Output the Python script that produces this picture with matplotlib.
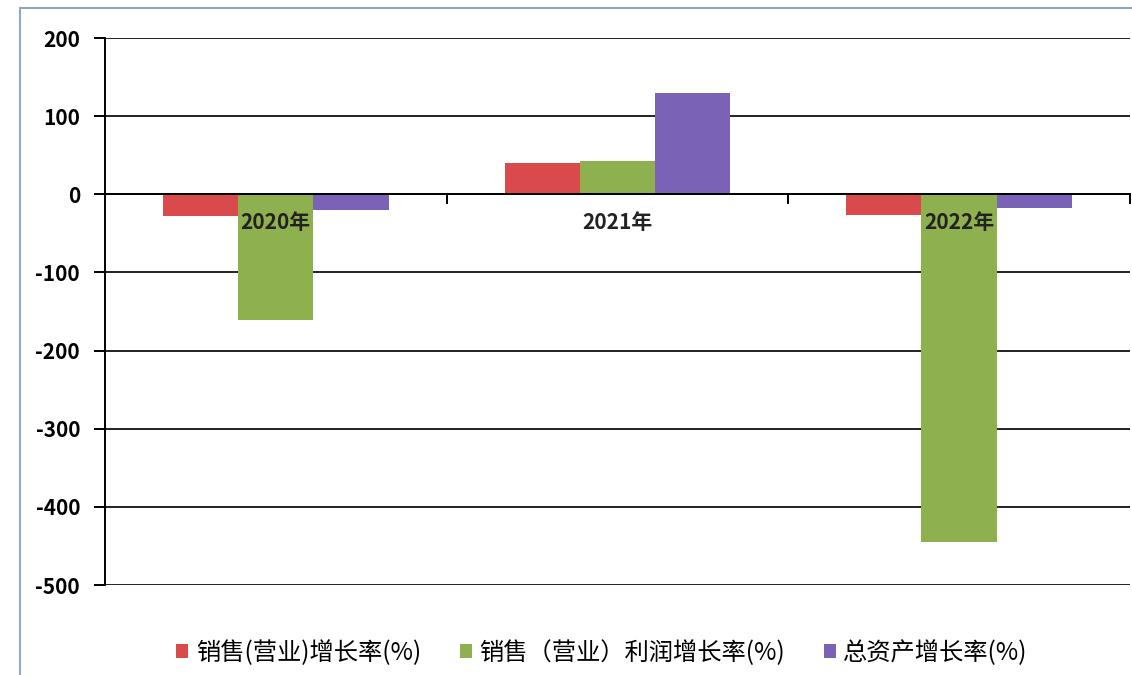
import matplotlib
matplotlib.use("Agg")
import matplotlib.pyplot as plt
import numpy as np
from matplotlib.patches import Rectangle

plt.rcParams["font.family"] = ["Noto Sans CJK SC", "DejaVu Sans"]

years = ["2020年", "2021年", "2022年"]
series_names = ["销售(营业)增长率(%)", "销售（营业）利润增长率(%)", "总资产增长率(%)"]
sales_growth = [-28, 40, -27]
profit_growth = [-161, 43, -445]
asset_growth = [-20, 129, -18]
y_ticks = [200, 100, 0, -100, -200, -300, -400, -500]

colors = ["#d94a4c", "#8fb04e", "#7a62b6"]

fig = plt.figure(figsize=(11.32, 6.75), dpi=100)
ax = fig.add_axes([0.0928, 0.1333, 0.9052, 0.8104])

x = np.arange(len(years))
width = 0.22
all_series = [sales_growth, profit_growth, asset_growth]
for i, (vals, name, col) in enumerate(zip(all_series, series_names, colors)):
    ax.bar(x + (i - 1) * width, vals, width=width, color=col, label=name, zorder=2)

ax.set_xlim(-0.5, 2.5)
ax.set_ylim(-500, 200)
ax.set_yticks(y_ticks)
ax.set_yticklabels([str(v) for v in y_ticks], fontsize=15, fontweight="bold")
ax.yaxis.grid(True, color="#222222", linewidth=1.4, zorder=0)
ax.set_axisbelow(True)

for side in ["top", "right"]:
    ax.spines[side].set_visible(False)
ax.spines["left"].set_linewidth(1.4)
ax.spines["bottom"].set_position(("data", 0))
ax.spines["bottom"].set_linewidth(1.4)
ax.spines["bottom"].set_zorder(3)

# category labels sit on top of the bars, just under the zero line
ax.set_xticks(x)
ax.set_xticklabels([])
for xi, year in zip(x, years):
    ax.annotate(year, xy=(xi, 0), xytext=(0, -13), textcoords="offset points",
                ha="center", va="top", fontsize=15, fontweight="bold",
                color="#222222", zorder=5)
ax.set_xticks([0.5, 1.5, 2.5], minor=True)
ax.tick_params(axis="x", which="major", length=0)
ax.tick_params(axis="x", which="minor", length=7, width=1.4, direction="out")
ax.tick_params(axis="y", length=8, width=1.4, pad=10)

ax.legend(loc="upper center", bbox_to_anchor=(0.485, -0.06), ncol=3, frameon=False,
          fontsize=17.5, handlelength=0.5, handleheight=0.5, handletextpad=0.3,
          columnspacing=1.6)

fig.patches.append(Rectangle((0.018, -0.05), 1.1, 1.038, transform=fig.transFigure,
                             fill=False, edgecolor="#8fa9c4", linewidth=1.5))

fig.savefig("out.png", dpi=100)
